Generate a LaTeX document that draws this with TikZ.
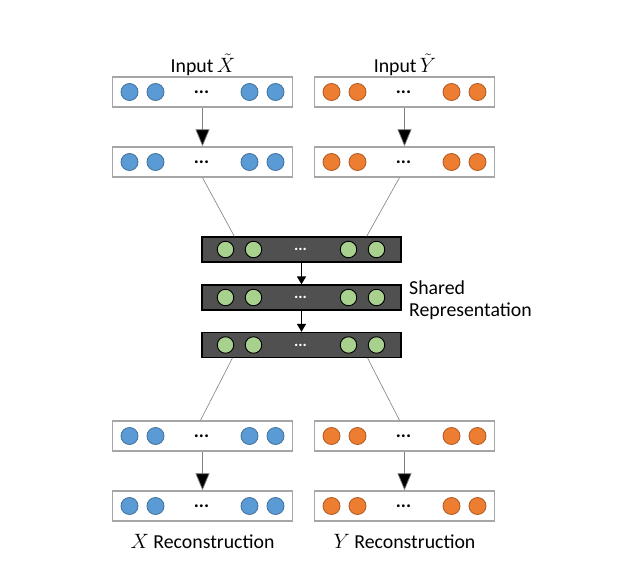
\documentclass[tikz,border=0pt]{standalone}
\usepackage{fontspec}
\setmainfont{Carlito}
\usetikzlibrary{arrows.meta}
\definecolor{boxgray}{HTML}{A6A6A6}
\definecolor{bluefill}{HTML}{5B9BD5}
\definecolor{blueedge}{HTML}{41719C}
\definecolor{orangefill}{HTML}{ED7D31}
\definecolor{orangeedge}{HTML}{AE5A21}
\definecolor{greenfill}{HTML}{A9D18E}
\definecolor{darkfill}{HTML}{505050}
\definecolor{linkgray}{HTML}{7F7F7F}
\tikzset{
  lightbox/.style={draw=boxgray, line width=1.3pt, fill=white, minimum width=180pt, minimum height=30pt, inner sep=0pt},
  darkbox/.style={draw=black, line width=1.3pt, fill=darkfill, minimum width=199pt, minimum height=25pt, inner sep=0pt},
  bluecirc/.style={circle, draw=blueedge, line width=0.8pt, fill=bluefill, minimum size=17pt, inner sep=0pt},
  orangecirc/.style={circle, draw=orangeedge, line width=0.8pt, fill=orangefill, minimum size=17pt, inner sep=0pt},
  greencirc/.style={circle, draw=black, line width=0.9pt, fill=greenfill, minimum size=16.5pt, inner sep=0pt},
  dotsdark/.style={font=\fontsize{19}{20}\selectfont\bfseries, text=black, inner sep=0pt},
  dotslight/.style={font=\fontsize{16}{18}\selectfont\bfseries, text=white, inner sep=0pt},
  lbl/.style={font=\fontsize{19.8}{22}\selectfont, inner sep=0pt},
  link/.style={draw=linkgray, line width=0.6pt},
  bigarrow/.style={draw=linkgray, line width=0.7pt, -{Triangle[length=17pt,width=14pt,fill=black]}},
  smallarrow/.style={draw=black, line width=1.4pt, -{Triangle[length=8pt,width=9pt]}}
}
\newcommand\plainlayer[4]{% name, x, y, circle style
  \node[lightbox] (#1) at (#2,#3) {};
  \foreach \dx/\k in {-73/a,-47/b,47/c,73/d}
    \node[#4] (#1\k) at ([xshift=\dx]#1.center) {};
  \node[dotsdark] (#1dots) at ([xshift=-1]#1.center) {...};
}
\newcommand\sharedlayer[3]{% name, x, y
  \node[darkbox] (#1) at (#2,#3) {};
  \foreach \dx/\k in {-76/a,-48/b,47/c,75/d}
    \node[greencirc] (#1\k) at ([xshift=\dx]#1.center) {};
  \node[dotslight] (#1dots) at ([xshift=-1]#1.center) {...};
}
\begin{document}
\begin{tikzpicture}[x=1pt,y=-1pt]
\useasboundingbox[fill=white] (0,0) rectangle (627,578);
% input side
\plainlayer{lin}{202.5}{92}{bluecirc}
\plainlayer{rin}{404.5}{92}{orangecirc}
\plainlayer{lenc}{202.5}{162}{bluecirc}
\plainlayer{renc}{404.5}{162}{orangecirc}
% shared
\sharedlayer{sa}{301.5}{249.5}
\sharedlayer{sb}{301.5}{297.5}
\sharedlayer{sc}{301.5}{345}
% output side
\plainlayer{ldec}{202.5}{436}{bluecirc}
\plainlayer{rdec}{404.5}{436}{orangecirc}
\plainlayer{lout}{202.5}{506}{bluecirc}
\plainlayer{rout}{404.5}{506}{orangecirc}
% labels
\node[lbl] (tx) at (203,65) {Input\,$\tilde{X}$};
\node[lbl] (ty) at (405,65) {Input\,$\tilde{Y}$};
\node[lbl, anchor=west] (sh1) at (409,288) {Shared};
\node[lbl, anchor=west] (sh2) at (409,311) {Representation};
\node[lbl] (bx) at (202.5,541) {$X$ Reconstruction};
\node[lbl] (by) at (404.5,541) {$Y$ Reconstruction};
% connectors
\draw[bigarrow] (lin.south) -- (lenc.north);
\draw[bigarrow] (rin.south) -- (renc.north);
\draw[bigarrow] (ldec.south) -- (lout.north);
\draw[bigarrow] (rdec.south) -- (rout.north);
\draw[smallarrow] (sa.south) -- (sb.north);
\draw[smallarrow] (sb.south) -- (sc.north);
\draw[link] (lenc.south) -- ([xshift=33]sa.north west);
\draw[link] ([xshift=-5]renc.south) -- ([xshift=-35]sa.north east);
\draw[link] ([xshift=31]sc.south west) -- ([xshift=-2]ldec.north);
\draw[link] ([xshift=-34]sc.south east) -- ([xshift=-5]rdec.north);
\end{tikzpicture}
\end{document}
